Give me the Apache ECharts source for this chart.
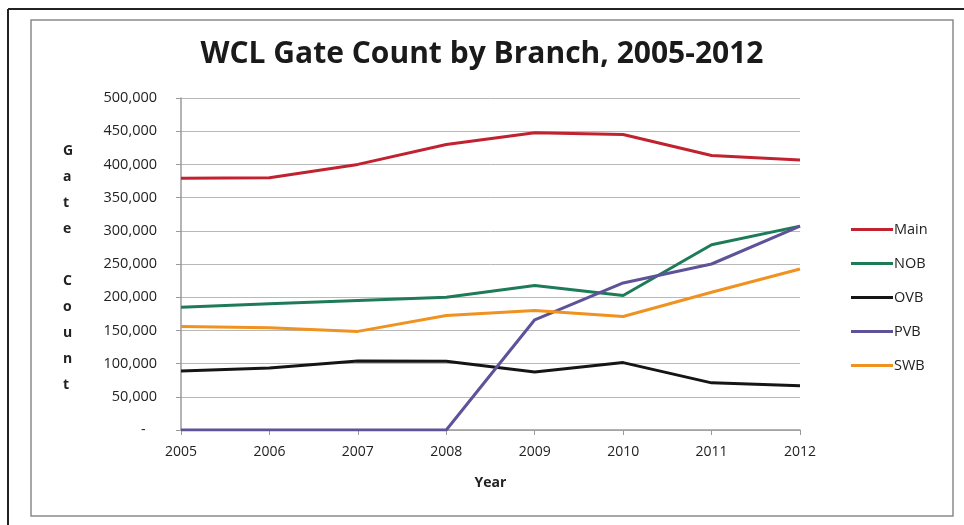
<!DOCTYPE html>
<html>
<head>
<meta charset="utf-8">
<script src="https://cdn.jsdelivr.net/npm/echarts@6/dist/echarts.min.js"></script>
<style>
html,body{margin:0;padding:0;background:#fff;}
#chart{width:964px;height:525px;}
</style>
</head>
<body>
<div id="chart"></div>
<script>
const years = ['2005','2006','2007','2008','2009','2010','2011','2012'];
const mainData = [379000, 380000, 400000, 430000, 447500, 445000, 413500, 406500];
const nobData  = [185000, 190000, 195000, 200000, 217500, 202500, 279000, 307000];
const ovbData  = [89000, 93500, 104000, 103500, 87500, 101500, 71000, 66500];
const pvbData  = [0, 0, 0, 0, 166000, 221500, 250000, 307000];
const swbData  = [156000, 154000, 148500, 172500, 180000, 171000, 207500, 242500];
const seriesNames = ['Main','NOB','OVB','PVB','SWB'];
const seriesColors = ['#C1222F','#1E7B58','#151515','#5E5298','#F0921F'];
const yTicks = [0, 50000, 100000, 150000, 200000, 250000, 300000, 350000, 400000, 450000, 500000];

const font = '"Open Sans", "Noto Sans", sans-serif';
const chart = echarts.init(document.getElementById('chart'));
const allData = [mainData, nobData, ovbData, pvbData, swbData];

chart.setOption({
  backgroundColor: '#fff',
  animation: false,
  title: {
    text: 'WCL Gate Count by Branch, 2005-2012',
    left: 'center', top: 34,
    textStyle: {fontFamily: font, fontWeight: 'bold', fontSize: 30, color: '#1a1a1a'}
  },
  legend: {
    orient: 'vertical', left: 846, top: 217,
    itemWidth: 42, itemHeight: 3, itemGap: 19,
    icon: 'rect',
    textStyle: {fontFamily: font, fontSize: 14.5, color: '#222', padding: [0,0,0,-4]},
    data: seriesNames
  },
  grid: {left: 181, right: 164, top: 98, bottom: 95, containLabel: false},
  xAxis: {
    type: 'category', data: years, boundaryGap: false,
    name: 'Year', nameLocation: 'middle', nameGap: 46,
    nameTextStyle: {fontFamily: font, fontWeight: 'bold', fontSize: 14, color: '#222'},
    axisLine: {show: true, lineStyle: {color: '#9a9a9a', width: 1.5}},
    axisTick: {show: true, length: 5, alignWithLabel: true, lineStyle: {color: '#9a9a9a'}},
    axisLabel: {fontFamily: font, fontSize: 14, color: '#222', margin: 15},
    splitLine: {show: false}
  },
  yAxis: {
    type: 'value', min: yTicks[0], max: yTicks[yTicks.length-1], interval: 50000,
    axisLine: {show: true, lineStyle: {color: '#9a9a9a', width: 1.5}},
    axisTick: {show: true, length: 5, lineStyle: {color: '#9a9a9a'}},
    axisLabel: {
      fontFamily: font, fontSize: 14.5, color: '#222', margin: 24,
      formatter: v => v === 0 ? '-   ' : v.toLocaleString('en-US')
    },
    splitLine: {show: true, lineStyle: {color: '#b8b8b8', width: 1}}
  },
  graphic: [
    {type: 'line', shape: {x1: 8, y1: 9, x2: 964, y2: 9}, style: {stroke: '#222', lineWidth: 2}},
    {type: 'line', shape: {x1: 8, y1: 9, x2: 8, y2: 525}, style: {stroke: '#222', lineWidth: 2}},
    {type: 'rect', shape: {x: 31, y: 20, width: 922, height: 496}, style: {fill: 'none', stroke: '#8a8a8a', lineWidth: 1.5}},
    {type: 'text', left: 63, top: 138, style: {
      text: 'G\na\nt\ne\n\nC\no\nu\nn\nt', fontFamily: font, fontWeight: 'bold', fontSize: 14,
      lineHeight: 26, fill: '#222', align: 'center'}}
  ],
  series: seriesNames.map((n, i) => ({
    name: n, type: 'line', data: allData[i], symbol: 'none',
    lineStyle: {color: seriesColors[i], width: 3},
    itemStyle: {color: seriesColors[i]}
  }))
});
</script>
</body>
</html>
